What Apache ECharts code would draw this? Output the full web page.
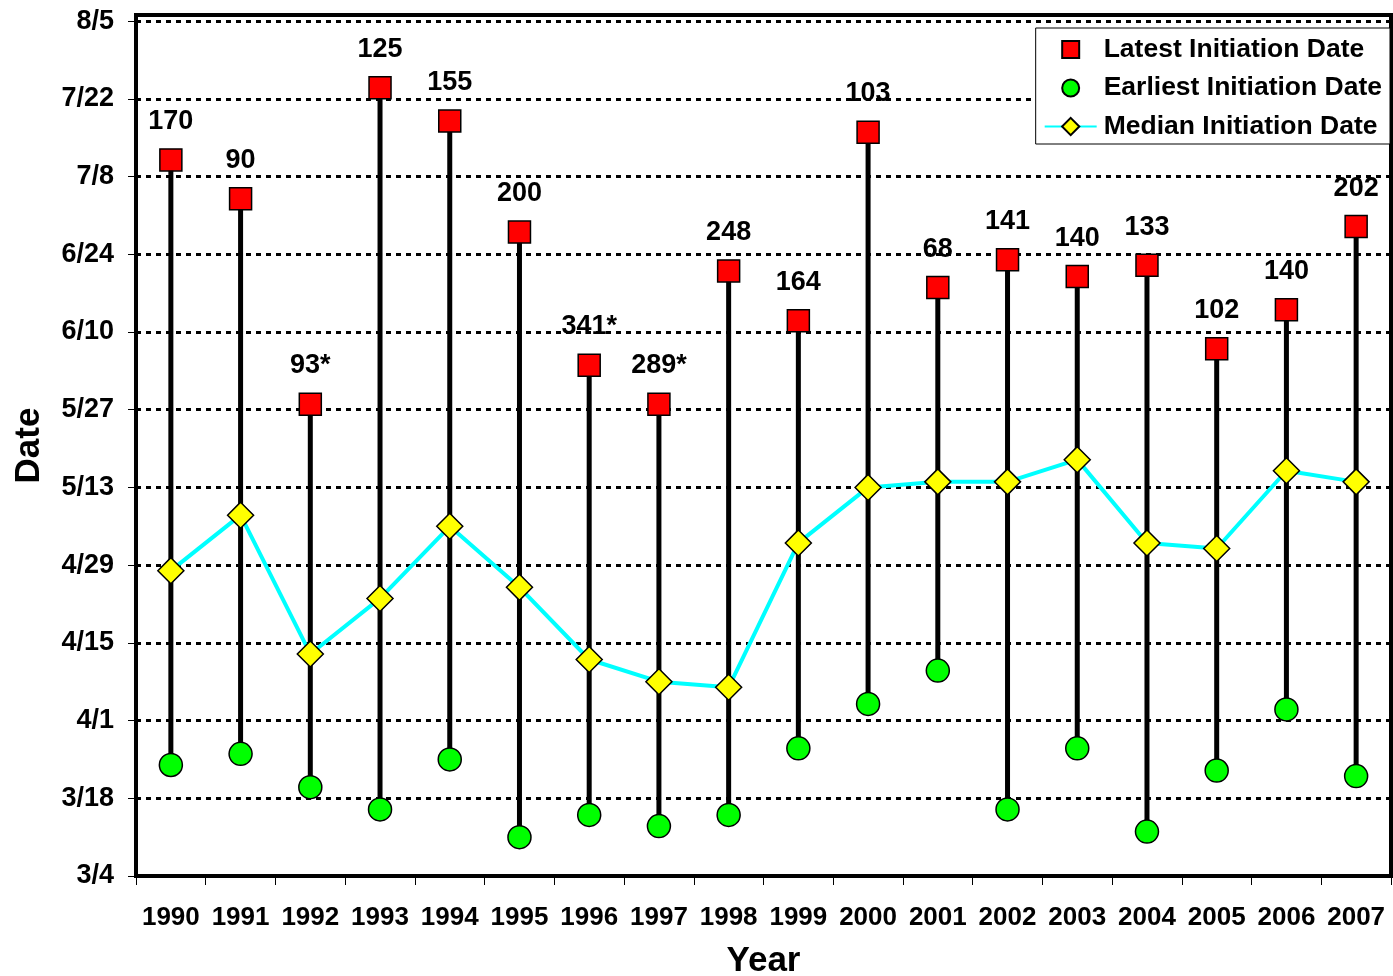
<!DOCTYPE html>
<html>
<head>
<meta charset="utf-8">
<script src="https://cdn.jsdelivr.net/npm/echarts@6/dist/echarts.min.js"></script>
<style>
html,body{margin:0;padding:0;background:#fff;}
#chart{width:1393px;height:976px;}
</style>
</head>
<body>
<div id="chart"></div>
<script>
// ---- data ----
const years = ['1990','1991','1992','1993','1994','1995','1996','1997','1998','1999','2000','2001','2002','2003','2004','2005','2006','2007'];
const latestDates   = ['7/11','7/4','5/28','7/24','7/18','6/28','6/4','5/28','6/21','6/12','7/16','6/18','6/23','6/20','6/22','6/7','6/14','6/29'];
const earliestDates = ['3/24','3/26','3/20','3/16','3/25','3/11','3/15','3/13','3/15','3/27','4/4','4/10','3/16','3/27','3/12','3/23','4/3','3/22'];
const medianDates   = ['4/28','5/8','4/13','4/23','5/6','4/25','4/12','4/8','4/7','5/3','5/13','5/14','5/14','5/18','5/3','5/2','5/16','5/14'];
const latestLabels  = ['170','90','93*','125','155','200','341*','289*','248','164','103','68','141','140','133','102','140','202'];
const yTickLabels   = ['3/4','3/18','4/1','4/15','4/29','5/13','5/27','6/10','6/24','7/8','7/22','8/5'];

// ---- date helpers (offset in days from 3/4) ----
const monthStart = [0,31,59,90,120,151,181,212,243,273,304,334];
function doy(s){ const p = s.split('/'); return monthStart[+p[0]-1] + (+p[1]); }
const base = doy('3/4');
function off(s){ return doy(s) - base; }
function toLabel(v){
  const d = Math.round(v) + base;
  let m = 0; while (m < 11 && monthStart[m+1] < d) m++;
  return (m+1) + '/' + (d - monthStart[m]);
}

const latest = latestDates.map(off);
const earliest = earliestDates.map(off);
const median = medianDates.map(off);
const yTicks = yTickLabels.map(off);

const FONT = "'Liberation Sans', Arial, sans-serif";
const RECT_ICON = 'path://M0,0M21.5,21.5M2.25,2.25L19.25,2.25L19.25,19.25L2.25,19.25Z';
const CIRCLE_ICON = 'path://M0,0M21.5,21.5M10.75,2.25A8.5,8.5,0,1,1,10.75,19.25A8.5,8.5,0,1,1,10.75,2.25Z';
const chart = echarts.init(document.getElementById('chart'), null, {renderer:'canvas'});

chart.setOption({
  backgroundColor: '#fff',
  animation: false,
  grid: { left: 136, right: 2, top: 15, bottom: 100, show: true, borderColor: '#000', borderWidth: 4,
          containLabel: false, outerBoundsMode: 'none' },
  legend: {
    data: [
      { name: 'Latest Initiation Date', icon: RECT_ICON },
      { name: 'Earliest Initiation Date', icon: CIRCLE_ICON },
      { name: 'Median Initiation Date' }
    ],
    orient: 'vertical',
    right: 3, top: 28,
    backgroundColor: '#fff', borderColor: '#000', borderWidth: 1,
    padding: [8, 8, 4, 8],
    itemWidth: 52, itemHeight: 21.5, itemGap: 11.5,
    symbolKeepAspect: true,
    textStyle: { fontFamily: FONT, fontWeight: 'bold', fontSize: 26.5, lineHeight: 27, color: '#000', padding: [0,0,0,2] },
    selectedMode: false
  },
  xAxis: {
    type: 'category', data: years, boundaryGap: true,
    axisLine: { show: true, lineStyle: { color: '#000', width: 4 } },
    axisTick: { show: true, interval: 0, length: 9, lineStyle: { color: '#000', width: 1 } },
    axisLabel: { interval: 0, margin: 29, fontFamily: FONT, fontWeight: 'bold', fontSize: 26, color: '#000' },
    splitLine: { show: false },
    name: 'Year', nameLocation: 'middle', nameGap: 68,
    nameTextStyle: { fontFamily: FONT, fontWeight: 'bold', fontSize: 35, color: '#000' }
  },
  yAxis: {
    type: 'value', min: 0, max: 155.1, interval: 14,
    axisLine: { show: true, lineStyle: { color: '#000', width: 4 } },
    axisTick: { show: true, length: 8, customValues: yTicks, lineStyle: { color: '#000', width: 1 } },
    axisLabel: { margin: 22, customValues: yTicks, fontFamily: FONT, fontWeight: 'bold', fontSize: 27, color: '#000',
      formatter: function(v){ return (Math.abs(v % 14) < 1e-6) ? toLabel(v) : ''; } },
    splitLine: { show: true, lineStyle: { color: '#000', width: 3, type: [5,5] } },
    name: 'Date', nameLocation: 'middle', nameGap: 89,
    nameTextStyle: { fontFamily: FONT, fontWeight: 'bold', fontSize: 35, color: '#000' }
  },
  series: [
    {
      name: 'range', type: 'custom', z: 1, silent: true,
      data: years.map((y,i) => [i, earliest[i], latest[i]]),
      encode: { x: 0, y: [1,2] },
      renderItem: function(params, api){
        const a = api.coord([api.value(0), api.value(1)]);
        const b = api.coord([api.value(0), api.value(2)]);
        return { type: 'line', shape: { x1: a[0], y1: a[1], x2: b[0], y2: b[1] }, style: { stroke: '#000', lineWidth: 5 } };
      }
    },
    {
      name: 'Median Initiation Date', type: 'line', z: 3,
      data: median,
      symbol: 'diamond', symbolSize: 26,
      lineStyle: { color: '#00FFFF', width: 4 },
      itemStyle: { color: '#FFFF00', borderColor: '#000', borderWidth: 1.5 },
      emphasis: { disabled: true }
    },
    {
      name: 'Latest Initiation Date', type: 'scatter', z: 4,
      data: latest,
      symbol: 'rect', symbolSize: 22,
      itemStyle: { color: '#FF0000', borderColor: '#000', borderWidth: 1.5, opacity: 1 },
      label: { show: true, position: 'top', distance: 13, fontFamily: FONT, fontWeight: 'bold', fontSize: 27, color: '#000',
        formatter: function(p){ return latestLabels[p.dataIndex]; } },
      emphasis: { disabled: true }
    },
    {
      name: 'Earliest Initiation Date', type: 'scatter', z: 4,
      data: earliest,
      symbol: 'circle', symbolSize: 23,
      itemStyle: { color: '#00FF00', borderColor: '#000', borderWidth: 1.5, opacity: 1 },
      emphasis: { disabled: true }
    }
  ]
});
</script>
</body>
</html>
